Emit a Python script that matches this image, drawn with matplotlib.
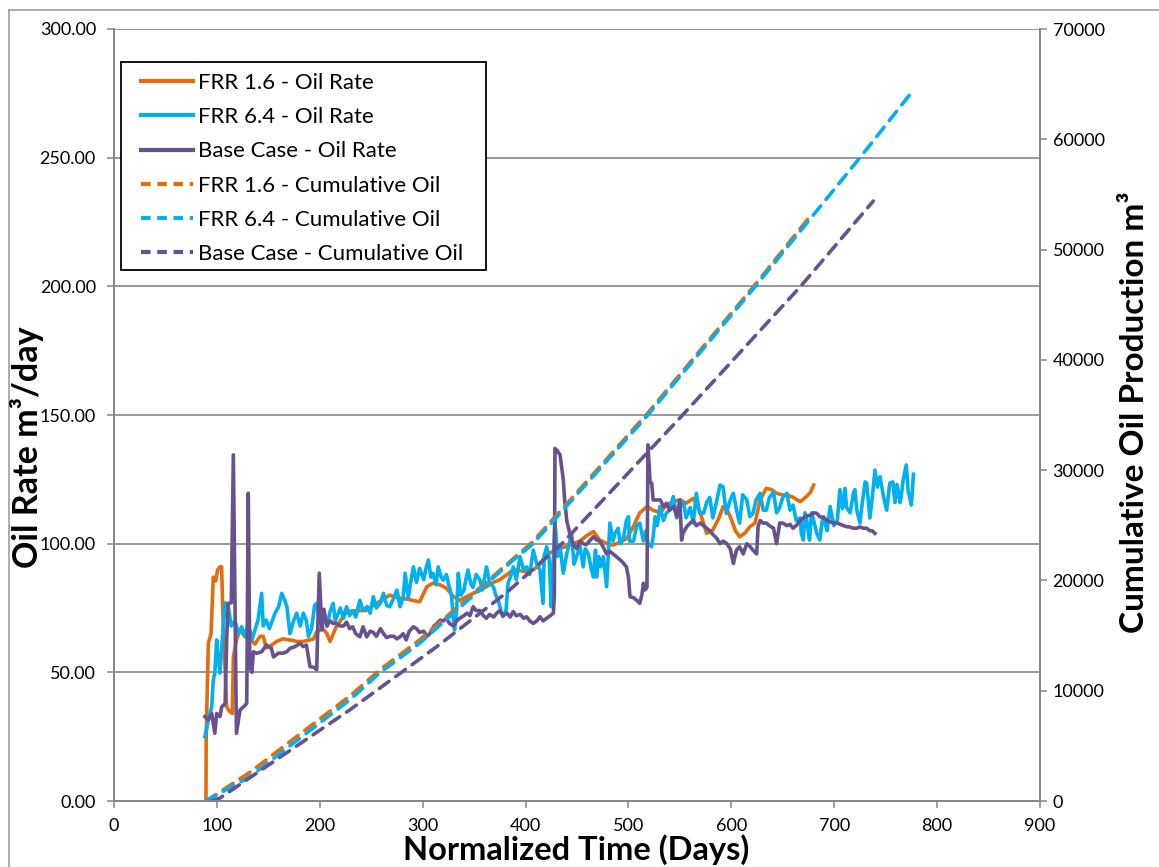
import matplotlib
matplotlib.use("Agg")
import matplotlib.pyplot as plt
from matplotlib.lines import Line2D
from matplotlib.patches import Rectangle

# ---------------- data ----------------
frr16_days = [89.4, 89.6, 91.7, 94.3, 96.5, 98.8, 100.7, 103, 104.6, 106, 109.5, 112, 115, 116, 119, 122.5,
              127, 132, 137, 142, 145, 148, 153, 158, 164, 171, 178, 184, 190, 194, 197, 203, 207, 210, 216,
              226, 235, 245, 252, 260, 268, 275, 284, 290, 297, 304, 310, 317, 323, 330, 336, 343, 349, 356,
              362, 369, 375, 382, 388, 395, 401, 408, 414, 421, 427, 433, 440, 446, 453, 459, 466, 472, 479,
              485, 492, 498, 504, 511, 518, 524, 531, 537, 543, 550, 556, 563, 569, 576, 582, 588, 592, 596,
              599, 604, 608, 613, 618, 623, 628, 634, 639, 644, 649, 654, 660, 667, 673, 677, 680]
frr16_rate = [0, 25, 61.4, 65, 87, 85.5, 89.8, 91, 91, 70, 36.6, 35, 34, 56, 62.6, 66.5,
              64, 63, 61, 64, 64, 59.5, 60.5, 62, 63, 62.6, 62, 62, 62.6, 63, 65.8, 67, 65, 62, 67.7,
              73.5, 74, 74, 76, 78, 80, 79, 78.5, 78, 77.4, 83.3, 84.6, 84, 82.7, 79.4, 78, 79.5, 80.7, 82,
              83.3, 85, 86, 88, 89.8, 89.5, 89, 90, 92, 96, 97, 98, 99, 100, 101, 103, 104.7, 101.4, 100,
              99.5, 100.5, 102, 106, 112, 114.4, 113, 112, 115, 116.3, 117, 115.7, 117.6, 113, 104, 105.3, 110, 114.4, 113,
              110.5, 105, 102.7, 104, 106.6, 108, 117, 121.5, 121, 119.6, 119, 119, 118, 116.3, 118.3, 120, 122.8]

frr64_days = [88.4, 91.7, 95, 96.5, 98, 99.8, 101, 103, 104.7, 108, 111, 114, 117.6, 121, 124, 127, 130.5, 134,
              137, 140, 143.5, 145, 148, 151, 156.5, 160, 163, 166, 168, 171, 174.5, 177.6, 181, 184, 187, 189,
              192, 195, 197, 200, 204, 207, 210, 213, 215, 218, 220, 223, 226, 229, 232, 235, 239, 242, 246,
              249, 252, 255, 259, 262, 265, 268, 272, 275, 278, 281, 283, 286, 288, 291, 294, 297, 301, 303,
              305.5, 308, 310, 313, 315, 318, 320, 323, 325, 328, 330, 331, 333, 334.6, 337, 340, 342, 344, 347,
              349, 352, 355.6, 358, 362, 365, 369, 371, 373.5, 376, 378, 381, 383, 386, 388, 391, 394.6, 398,
              401, 404, 407.5, 411, 414, 417, 418, 420.5, 423, 425, 426.5, 428.6, 431, 433.5, 436.7, 440, 444.8,
              447, 449.6, 453, 456, 458, 461, 464, 466, 468, 469, 471, 473, 475.6, 478.8, 482, 485, 487, 490,
              492, 495, 498, 500, 501, 505, 508, 511, 514.6, 517, 519, 522.5, 524, 526, 528, 530.6, 534, 537,
              540, 543.6, 545, 547, 550, 553.6, 556, 560, 563, 566, 569, 573, 576, 579, 582, 586, 589, 592,
              595, 599, 602, 605, 608, 611, 615, 618, 621, 624, 628, 631, 634, 637, 641, 644, 647, 650, 654,
              657, 660, 663, 667, 668, 670, 671.5, 673, 675, 676, 678, 680, 683, 686, 688, 689.6, 693, 696,
              699.6, 703, 705.5, 708, 710.5, 712, 715.5, 718.6, 720, 722, 725, 727, 730, 731.5, 734.7, 737,
              739.6, 742, 744.5, 748, 751, 754, 757, 759, 761, 764, 765, 767, 770, 772, 773.6, 775, 777]
frr64_rate = [25, 31.5, 36.6, 47, 49.7, 62.6, 56, 49.7, 60, 77, 75.5, 68, 70, 65, 67.7, 64, 69, 62.6,
              66.5, 70.3, 80.7, 68, 70.3, 67, 73, 75.5, 80.7, 78, 75.5, 65, 70, 73, 68, 73, 70, 64,
              67, 76, 76.8, 70, 71.5, 68, 73.6, 76.8, 70, 73, 75, 71, 75.5, 72, 74, 71.5, 78, 74, 75.5,
              73, 79.4, 75, 77, 80.7, 76, 75.5, 79, 82, 75.5, 79, 88.5, 79, 84, 91, 85, 90.4, 86, 90,
              93.7, 87, 88.5, 84, 91, 87, 85.8, 88, 84.6, 80, 70, 66.5, 74, 88.5, 80, 81.8, 86, 89.8, 84,
              83, 88, 86, 82, 91, 85, 83, 80, 78, 74, 71.6, 74, 84.6, 88, 91, 86, 95, 90,
              91, 88, 97.5, 92, 89.8, 76.8, 95, 98.8, 94, 75.5, 90, 109, 95, 98.8, 88.5, 96, 104,
              92, 95, 99, 91, 98, 96, 90, 87, 97.5, 87, 95, 91, 95, 83.3, 108, 101, 104, 106,
              100, 102, 109, 110.5, 101, 101, 107, 108, 101, 105, 100, 98.8, 102.7, 110.5, 107, 114.4, 109, 112,
              113, 118.3, 115, 110, 114, 116.3, 110, 114, 108, 119.6, 112, 111.8, 116, 118, 110, 117, 122.8, 122,
              111.8, 117, 119.6, 113, 108, 119, 117, 110.5, 111.8, 117, 119.6, 113, 113, 118, 120, 112, 114, 118, 119.6,
              113, 115, 109, 110, 104, 101.4, 112, 110, 104, 101.4, 112, 109, 104, 101.4, 108, 110.5, 105, 114.4,
              107, 109, 121, 113.6, 121.5, 114, 112, 119.6, 121, 113, 108, 115, 124, 123.5, 110, 118,
              128.6, 122, 126, 118, 113, 123.5, 124, 116, 123, 116, 118, 124.8, 130.6, 120, 117.6, 115, 127]

base_days = [88.4, 91.7, 95, 98, 99.8, 103, 104.7, 108, 109.5, 111, 114, 116, 117.6, 119, 122.5, 127, 129,
             130.5, 132, 134, 135.5, 138.7, 143.5, 148, 153, 155, 160, 164, 168, 171, 176, 181, 184, 187,
             190.5, 194, 197, 199.5, 202, 204, 207, 210, 213, 216, 220, 223, 226, 229, 232, 235, 239, 242,
             245.6, 249, 252, 255, 259, 262, 265, 268, 272, 275, 278, 281, 284, 287, 291, 294, 297, 301, 304,
             307, 311, 314, 317, 320, 323, 326, 330, 333, 336, 340, 343, 346, 349, 352, 355.6, 359, 362, 365,
             369, 372, 375, 378, 382, 385, 388, 391, 395, 398, 401, 404, 407.5, 411, 414, 417, 420.5, 424, 427,
             428, 428.6, 431, 433.5, 436.7, 438, 440, 443, 446, 450, 453, 456, 459, 462, 466, 469, 472, 475,
             478.8, 482, 485, 488, 492, 495, 498, 500, 501.5, 505, 508, 511, 513, 514.6, 516, 518, 519, 521,
             522.6, 524, 527, 531, 534, 537, 540, 544, 547, 550, 551.7, 553, 556.6, 560, 563, 566, 569.5, 573,
             576, 579, 582.5, 586, 589, 592, 595.6, 599, 602, 605, 608, 611.6, 615, 618, 621, 624.6, 626, 628,
             631, 634, 637, 641, 644, 647, 650, 654, 657, 660, 663, 667, 670, 673, 677, 680, 683, 686, 690,
             693, 696, 699.6, 703, 706, 709, 712, 715, 718.6, 722, 725, 728, 731.5, 734.7, 737, 739.6]
base_rate = [32.8, 31.5, 34, 26.3, 34, 32.8, 36.6, 37.8, 62.6, 76.8, 77, 134.5, 77, 26.3, 35.4, 37, 38,
             119.6, 52, 50, 58, 57.4, 58, 60.6, 59.3, 56, 57.5, 57.4, 58, 59.3, 60, 61.3, 60, 60.6,
             52.2, 52, 51, 88.5, 66.5, 74.5, 68, 70, 69, 69, 68, 68, 69.5, 67, 67.7, 65, 63.8, 67.7,
             63.8, 66, 65.5, 64, 67, 65, 63.5, 64, 64, 63, 63.8, 65, 62.6, 66, 67.7, 67, 65.5, 66, 64,
             65, 68, 69, 70.3, 70, 71, 69, 68, 70, 71, 72, 73, 72, 75.5, 74, 74, 72, 71, 72.5,
             71.5, 73, 74, 72, 73, 71.5, 73.6, 72, 72.5, 71, 71.6, 70, 69, 70, 71.6, 70, 71, 72, 73,
             80, 137, 136, 134.5, 124.8, 117, 109, 104, 100, 98, 101, 100, 99.6, 101, 102.7, 101.5, 101, 99,
             96, 97, 96, 95, 93.7, 92.5, 91, 87, 79.4, 79, 78, 76.8, 80, 84.6, 82, 83, 138.4, 124,
             123.5, 117, 117, 117, 114.4, 115.7, 113, 114.4, 110.5, 117, 101.4, 104, 106.6, 108, 109, 107, 108, 107,
             106, 105, 103.4, 102, 100, 101, 100, 98, 92.3, 97.5, 98.8, 96, 100, 99, 97.5, 96, 106.6, 109,
             108, 108, 107, 106, 100, 108, 108, 107, 107.5, 106, 107, 109, 110, 110.8, 111, 112, 111.8, 110.5, 110,
             109, 108.5, 108, 108, 107.5, 107, 106.6, 106.5, 106, 106, 106.5, 106, 106, 105, 105, 104]

frr16_cum_days = [89.5, 132, 229, 258.5, 297, 407, 518, 623, 679]
frr16_cum = [0, 2600, 9500, 11900, 14600, 23500, 35100, 46800, 53300]
frr64_cum_days = [89, 132, 229, 258.5, 297, 388, 407, 518, 623, 725, 777]
frr64_cum = [0, 2200, 9160, 11630, 14300, 21850, 23300, 34910, 46630, 58330, 64470]
base_cum_days = [95, 103, 229, 258.5, 313.6, 381.6, 435, 550, 667, 738]
base_cum = [0, 270, 8250, 10245, 13990, 18900, 23300, 34730, 46630, 54400]

left_ticks = [0, 50, 100, 150, 200, 250, 300]
right_ticks = [0, 10000, 20000, 30000, 40000, 50000, 60000, 70000]
x_ticks = [0, 100, 200, 300, 400, 500, 600, 700, 800, 900]

labels = ["FRR 1.6 - Oil Rate", "FRR 6.4 - Oil Rate", "Base Case - Oil Rate",
          "FRR 1.6 - Cumulative Oil", "FRR 6.4 - Cumulative Oil", "Base Case - Cumulative Oil"]

# ---------------- style ----------------
ORANGE = "#E46C0A"
BLUE = "#00B0F0"
PURPLE = "#67518E"
GRID = "#868686"
FONT = "Lato"
plt.rcParams['font.family'] = [FONT, 'DejaVu Sans']

W, H = 1159, 867
fig = plt.figure(figsize=(W / 100, H / 100), dpi=100)
L, R, B, T = 114, 1040, 801, 29
ax = fig.add_axes([L / W, 1 - B / H, (R - L) / W, (B - T) / H])
ax2 = ax.twinx()

lw = 2.6
ax.plot(frr16_days, frr16_rate, color=ORANGE, lw=lw, solid_joinstyle='round', zorder=3)
ax.plot(frr64_days, frr64_rate, color=BLUE, lw=lw, solid_joinstyle='round', zorder=4)
ax.plot(base_days, base_rate, color=PURPLE, lw=lw, solid_joinstyle='round', zorder=5)

dl = 2.6
dash = (3.3, 2.3)
ax2.plot(frr16_cum_days, frr16_cum, color=ORANGE, lw=dl, dashes=dash, dash_capstyle='round')
ax2.plot(frr64_cum_days, frr64_cum, color=BLUE, lw=dl, dashes=dash, dash_capstyle='round')
ax2.plot(base_cum_days, base_cum, color=PURPLE, lw=dl, dashes=dash, dash_capstyle='round')

ax.set_xlim(0, 900)
ax.set_ylim(0, 300)
ax2.set_ylim(0, 70000)
ax.set_xticks(x_ticks)
ax.set_yticks(left_ticks)
ax2.set_yticks(right_ticks)
ax.set_xticklabels([str(v) for v in x_ticks])
ax.set_yticklabels([f"{v:.2f}" for v in left_ticks])
ax2.set_yticklabels([str(v) for v in right_ticks])

for a in (ax, ax2):
    for s in a.spines.values():
        s.set_color(GRID)
        s.set_linewidth(1.2)
    a.spines['top'].set_visible(False)
    a.tick_params(axis='both', colors=GRID, labelcolor='black', direction='out',
                  length=5, width=1.1, labelsize=13)
ax.tick_params(axis='x', pad=7)
ax.tick_params(axis='y', pad=8)
ax2.tick_params(axis='y', pad=4)

ax.set_axisbelow(True)
ax.yaxis.grid(True, color=GRID, linewidth=1.2)
ax.set_zorder(1)
ax2.set_zorder(2)
ax.patch.set_visible(False)

# axis titles
fig.text(576 / W, 1 - 850 / H, "Normalized Time (Days)", ha='center', va='center',
         fontsize=23.5, fontweight='bold')
fig.text(27 / W, 1 - 447 / H, "Oil Rate m³/day", ha='center', va='center', rotation=90,
         fontsize=24.5, fontweight='bold')
fig.text(1135 / W, 1 - 412 / H, "Cumulative Oil Production m³", ha='center', va='center',
         rotation=90, fontsize=24, fontweight='bold')

# legend with a manually drawn frame
frame = Rectangle((121 / W, 1 - 270 / H), (486 - 121) / W, (270 - 62) / H,
                  transform=fig.transFigure, facecolor='white', edgecolor='black',
                  linewidth=1.3, zorder=6, clip_on=False)
ax2.add_patch(frame)
ds = (2.3, 1.6)
handles = [Line2D([], [], color=ORANGE, lw=3),
           Line2D([], [], color=BLUE, lw=3),
           Line2D([], [], color=PURPLE, lw=3),
           Line2D([], [], color=ORANGE, lw=3, dashes=ds),
           Line2D([], [], color=BLUE, lw=3, dashes=ds),
           Line2D([], [], color=PURPLE, lw=3, dashes=ds)]
leg = ax2.legend(handles, labels, loc='upper left',
                 bbox_to_anchor=(141 / W, 1 - 73 / H), bbox_transform=fig.transFigure,
                 fontsize=16, frameon=False, borderaxespad=0, borderpad=0,
                 handlelength=2.35, handletextpad=0.23, labelspacing=0.64)
leg.set_zorder(7)

# chart area border (left / top visible)
fig.add_artist(Line2D([8.5 / W, 8.5 / W], [0, 1 - 10 / H], color='#A0A0A0', lw=1.2,
                      transform=fig.transFigure))
fig.add_artist(Line2D([8.5 / W, 1], [1 - 10 / H, 1 - 10 / H], color='#A0A0A0', lw=1.2,
                      transform=fig.transFigure))

fig.savefig("out.png", dpi=100)
